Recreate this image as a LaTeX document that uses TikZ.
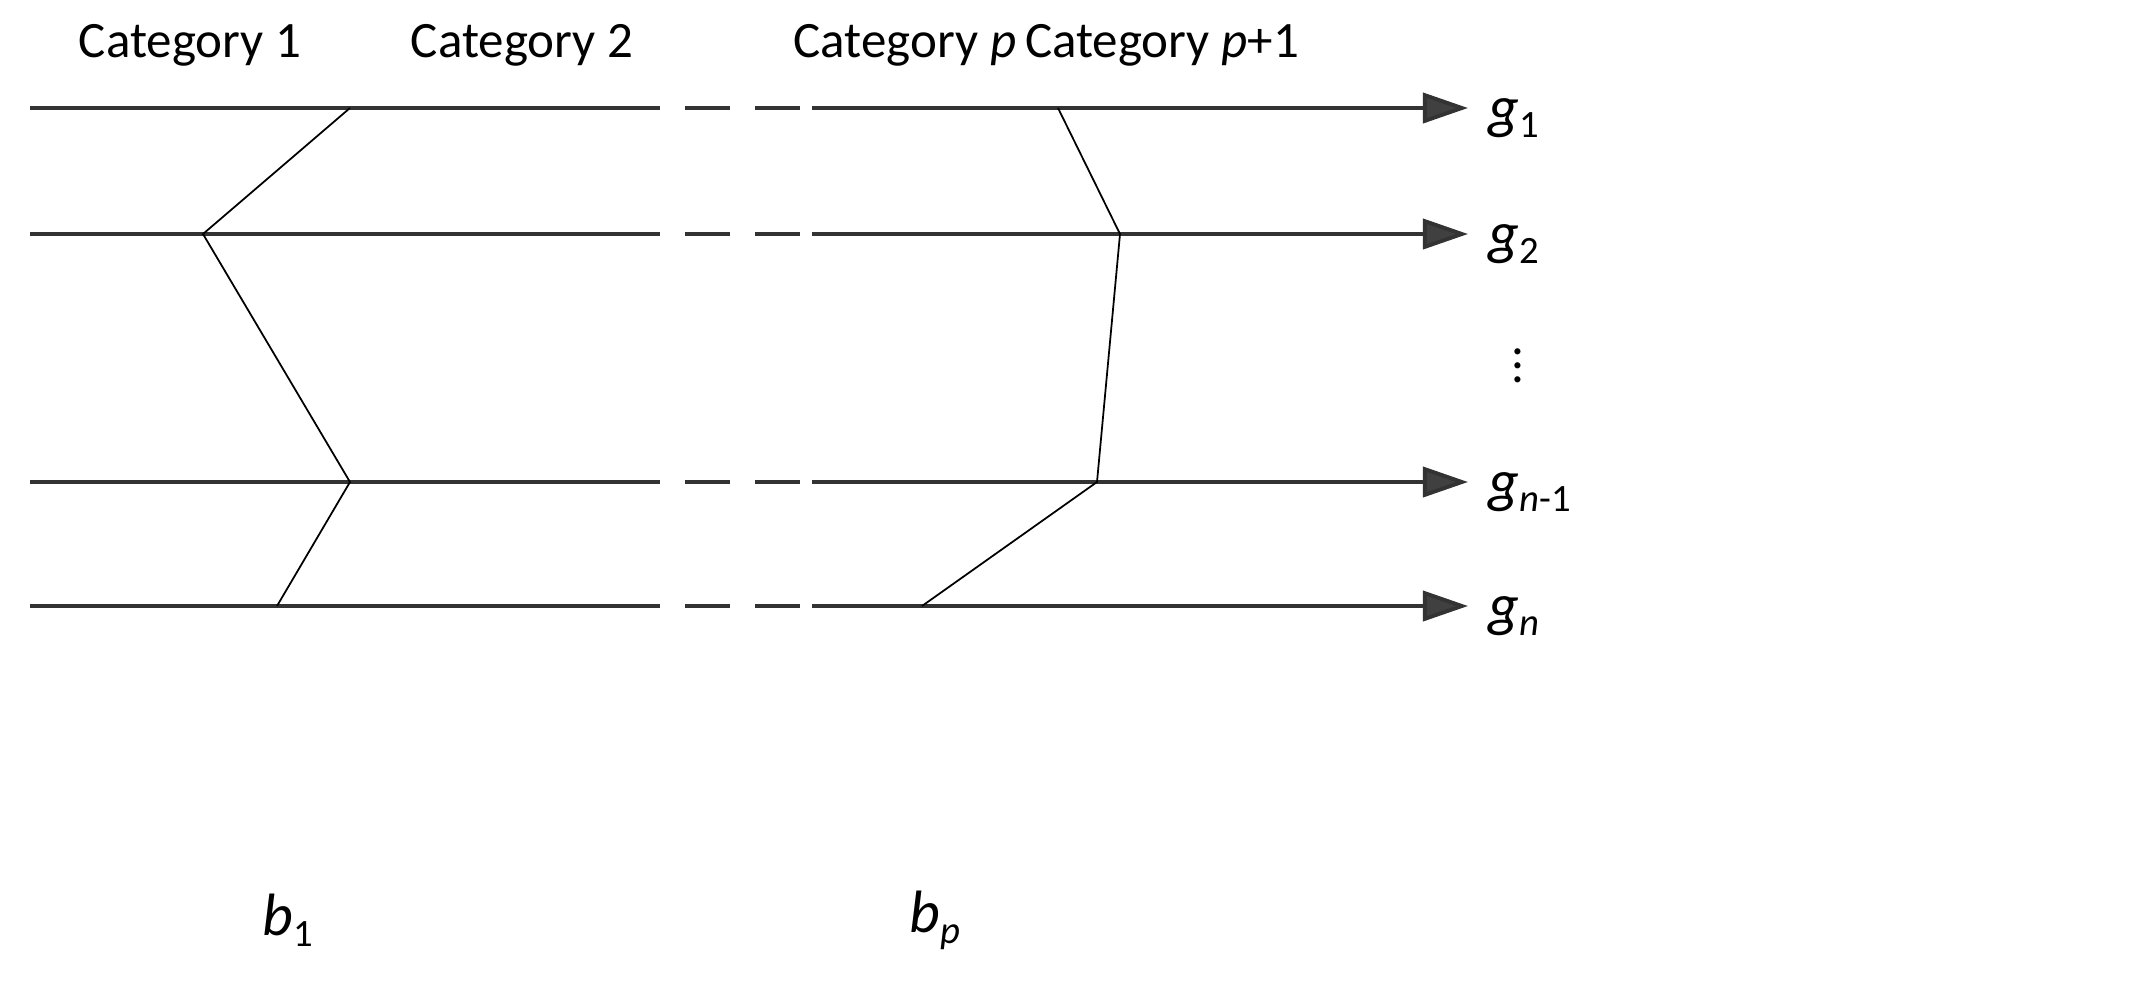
\documentclass[tikz,border=0pt]{standalone}
\usepackage{fontspec}
\setmainfont{Carlito}
\usetikzlibrary{arrows.meta}
\newcommand{\lbl}[2]{{\fontsize{17}{19}\selectfont\textit{#1}}\raisebox{-0.45ex}{\fontsize{11}{12}\selectfont #2}}
\begin{document}
\begin{tikzpicture}[x=0.01cm,y=-0.01cm,
  hline/.style={line width=1.1pt,draw=black!80},
  arr/.style={hline,-{Triangle[length=0.45cm,width=0.3cm,fill=black!75]}},
  bline/.style={line width=0.5pt,draw=black},
  txt/.style={font=\fontsize{14.5}{16}\selectfont,inner sep=0pt}]
\useasboundingbox (0,0) rectangle (2148,984);
\foreach \y/\n in {108/a,234/b,482/c,606/d}{
  \coordinate (s\n) at (30,\y);
  \coordinate (m\n) at (660,\y);
  \coordinate (d1\n) at (685,\y);
  \coordinate (d2\n) at (730,\y);
  \coordinate (d3\n) at (755,\y);
  \coordinate (d4\n) at (800,\y);
  \coordinate (r\n) at (812,\y);
  \coordinate (e\n) at (1468,\y);
  \draw[hline] (s\n) -- (m\n);
  \draw[hline] (d1\n) -- (d2\n);
  \draw[hline] (d3\n) -- (d4\n);
  \draw[arr] (r\n) -- (e\n);
}
\coordinate (p1) at (350,108);
\coordinate (p2) at (203,234);
\coordinate (p3) at (350,482);
\coordinate (p4) at (277,606);
\draw[bline] (p1) -- (p2) -- (p3) -- (p4);
\coordinate (q1) at (1058,108);
\coordinate (q2) at (1120,234);
\coordinate (q3) at (1097,482);
\coordinate (q4) at (922,606);
\draw[bline] (q1) -- (q2) -- (q3) -- (q4);
\node[txt] (c1) at (190,45) {Category 1};
\node[txt] (c2) at (522,45) {Category 2};
\node[txt] (cp) at (905,45) {Category \textit{p}};
\node[txt] (cp1) at (1162,45) {Category \textit{p}+1};
\node[txt,anchor=west] (g1) at (1488,118) {\lbl{g}{1}};
\node[txt,anchor=west] (g2) at (1488,244) {\lbl{g}{2}};
\node[txt] (vd) at (1518,355) {$\vdots$};
\node[txt,anchor=west] (gn1) at (1488,492) {\lbl{g}{\textit{n}-1}};
\node[txt,anchor=west] (gn) at (1488,616) {\lbl{g}{\textit{n}}};
\node[txt] (b1) at (288,920) {\lbl{b}{1}};
\node[txt] (bp) at (935,920) {\lbl{b}{\textit{p}}};
\end{tikzpicture}
\end{document}
